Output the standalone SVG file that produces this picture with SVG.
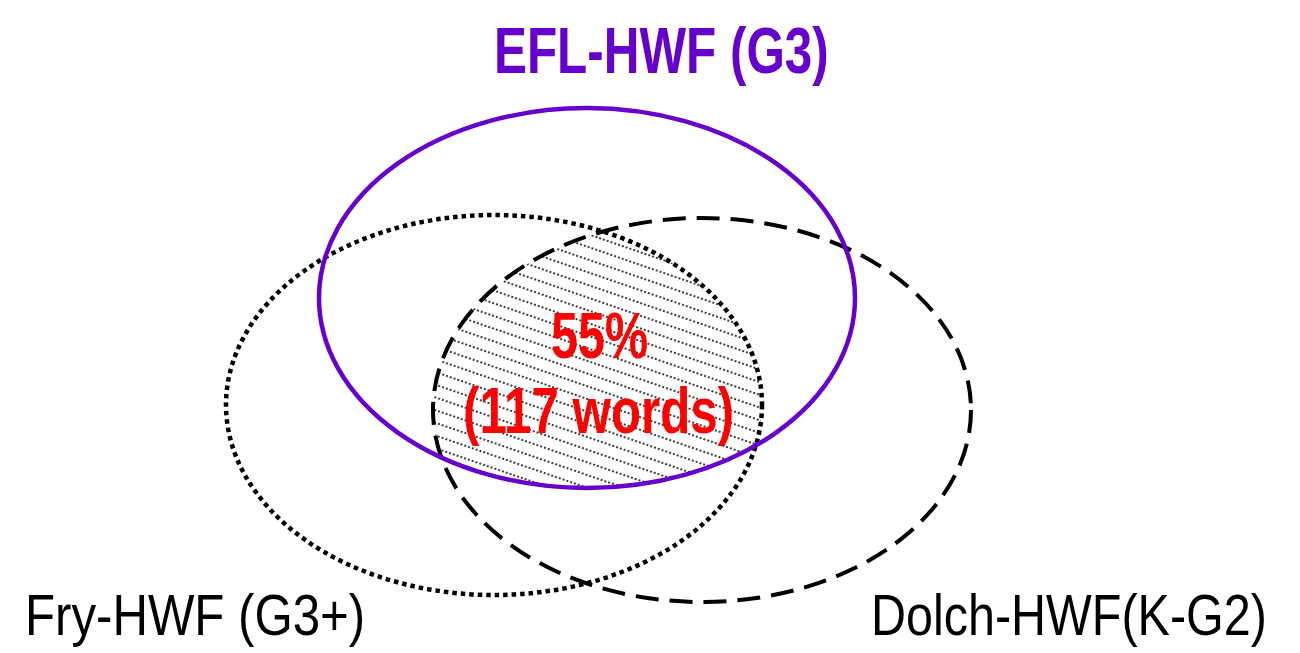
<svg xmlns="http://www.w3.org/2000/svg" width="1300" height="653" viewBox="0 0 1300 653">
<style>
.set{fill:none}
.efl{stroke:#6600CC;stroke-width:4.5}
.fry{stroke:#000;stroke-width:4.5;stroke-dasharray:4.5 4}
.dolch{stroke:#000;stroke-width:4;stroke-dasharray:23 11}
.title{font-family:"Liberation Sans",Arial,sans-serif;font-weight:bold;font-size:64px;fill:#6600CC}
.pct{font-family:"Liberation Sans",Arial,sans-serif;font-weight:bold;font-size:64px;fill:#FF0000}
.lbl{font-family:"Liberation Sans",Arial,sans-serif;font-size:58px;fill:#000}
</style>
<defs>
<pattern id="hatch" patternUnits="userSpaceOnUse" width="200" height="12" patternTransform="rotate(19)">
<line x1="0" y1="6" x2="200" y2="6" stroke="#000" stroke-width="1.4" stroke-dasharray="2 2"/>
</pattern>
<clipPath id="cFry"><ellipse cx="494" cy="405" rx="268" ry="190"/></clipPath>
<clipPath id="cDolch"><ellipse cx="702" cy="410" rx="269" ry="192"/></clipPath>
</defs>
<rect width="1300" height="653" fill="#fff"/>
<g id="overlap">
<g clip-path="url(#cFry)"><g clip-path="url(#cDolch)">
<ellipse cx="587" cy="298" rx="268" ry="190" fill="url(#hatch)"/>
</g></g>
<text class="pct" transform="translate(551,358) scale(0.758,1)">55%</text>
<text class="pct" transform="translate(463,433) scale(0.77,1)">(117 words)</text>
</g>
<g id="dolch">
<ellipse class="set dolch" cx="702" cy="410" rx="269" ry="192"/>
<text class="lbl" transform="translate(871,635) scale(0.836,1)">Dolch-HWF(K-G2)</text>
</g>
<g id="fry">
<ellipse class="set fry" cx="494" cy="405" rx="268" ry="190"/>
<text class="lbl" transform="translate(25,635) scale(0.848,1)">Fry-HWF (G3+)</text>
</g>
<g id="efl">
<ellipse class="set efl" cx="587" cy="298" rx="268" ry="190"/>
<text class="title" transform="translate(494,73) scale(0.772,1)">EFL-HWF (G3)</text>
</g>
<g id="connectors"/>
</svg>
